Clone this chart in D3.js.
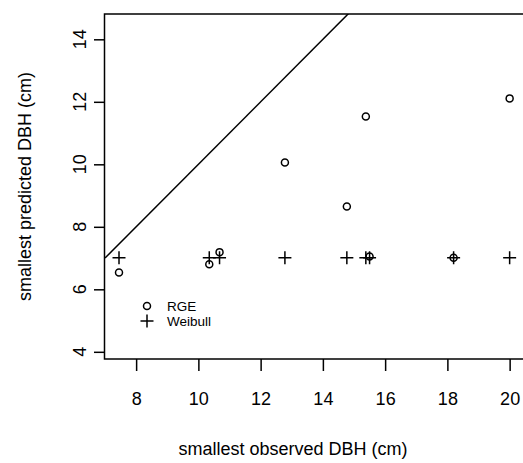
<!DOCTYPE html>
<html><head><meta charset="utf-8">
<script src="https://cdn.jsdelivr.net/npm/d3@7"></script>
<style>body{margin:0;background:#fff}svg{display:block}text{font-family:"Liberation Sans",Arial,sans-serif;fill:#000}</style>
</head><body>
<svg id="c" width="523" height="463"></svg>
<script>
const observed = [7.45, 10.35, 10.68, 12.78, 14.77, 15.38, 15.5, 18.2, 20.0];
const rge = [6.54, 6.80, 7.19, 10.06, 8.65, 11.53, 7.05, 7.01, 12.11];
const weibull = [7.01, 7.01, 7.01, 7.01, 7.01, 7.01, 7.01, 7.01, 7.01];
const xTicks = [8, 10, 12, 14, 16, 18, 20];
const yTicks = [4, 6, 8, 10, 12, 14];
const legendLabels = ["RGE", "Weibull"];

const svg = d3.select("#c");
const x = d3.scaleLinear().domain([7, 20.5]).range([105, 525.2]);
const y = d3.scaleLinear().domain([3.77, 14.81]).range([359, 14]);

// box (right side off-canvas)
svg.append("rect").attr("x", x(7) - 0.5).attr("y", y(14.81)).attr("width", x(20.5) - x(7) + 2)
  .attr("height", y(3.77) - y(14.81)).attr("fill", "none").attr("stroke", "#000").attr("stroke-width", 1.5);

// x axis
const xa = svg.append("g").attr("transform", `translate(0,${y(3.77)})`)
  .call(d3.axisBottom(x).tickValues(xTicks).tickSize(12).tickPadding(21).tickFormat(d3.format("d")));
xa.select(".domain").remove();
xa.selectAll("line").attr("stroke-width", 1.5);
xa.selectAll("text").attr("font-size", 18).attr("font-family", '"Liberation Sans",Arial,sans-serif');

// y axis
const ya = svg.append("g").attr("transform", `translate(${x(7)},0)`)
  .call(d3.axisLeft(y).tickValues(yTicks).tickSize(11).tickFormat(d3.format("d")));
ya.select(".domain").remove();
ya.selectAll("line").attr("stroke-width", 1.5);
ya.selectAll("text").remove();
yTicks.forEach(t => {
  svg.append("text").attr("transform", `translate(86,${y(t)}) rotate(-90)`)
    .attr("text-anchor", "middle").attr("font-size", 18).text(t);
});

// axis titles
svg.append("text").attr("x", 293).attr("y", 455).attr("text-anchor", "middle")
  .attr("font-size", 18).text("smallest observed DBH (cm)");
svg.append("text").attr("transform", `translate(31,${(y(3.77) + y(14.81)) / 2}) rotate(-90)`)
  .attr("text-anchor", "middle").attr("font-size", 18).text("smallest predicted DBH (cm)");

// clip
svg.append("clipPath").attr("id", "clip").append("rect")
  .attr("x", x(7)).attr("y", y(14.81)).attr("width", 600).attr("height", y(3.77) - y(14.81));

// y = x line
svg.append("line").attr("clip-path", "url(#clip)")
  .attr("x1", x(7)).attr("y1", y(7)).attr("x2", x(16)).attr("y2", y(16))
  .attr("stroke", "#000").attr("stroke-width", 1.5);

const plus = (g, cx, cy, s) => {
  g.append("path").attr("d", `M${cx - s},${cy}H${cx + s}M${cx},${cy - s}V${cy + s}`)
    .attr("stroke", "#000").attr("stroke-width", 1.5).attr("fill", "none");
};
const pts = svg.append("g");
observed.forEach((o, i) => {
  pts.append("circle").attr("cx", x(o)).attr("cy", y(rge[i])).attr("r", 3.5)
    .attr("fill", "none").attr("stroke", "#000").attr("stroke-width", 1.5);
  plus(pts, x(o), y(weibull[i]), 6.5);
});

// legend
svg.append("circle").attr("cx", 147).attr("cy", 306).attr("r", 3.5)
  .attr("fill", "none").attr("stroke", "#000").attr("stroke-width", 1.5);
plus(svg, 147, 321, 6.5);
svg.append("text").attr("x", 167).attr("y", 311).attr("font-size", 13.5).text(legendLabels[0]);
svg.append("text").attr("x", 167).attr("y", 326).attr("font-size", 13.5).text(legendLabels[1]);
</script>
</body></html>
